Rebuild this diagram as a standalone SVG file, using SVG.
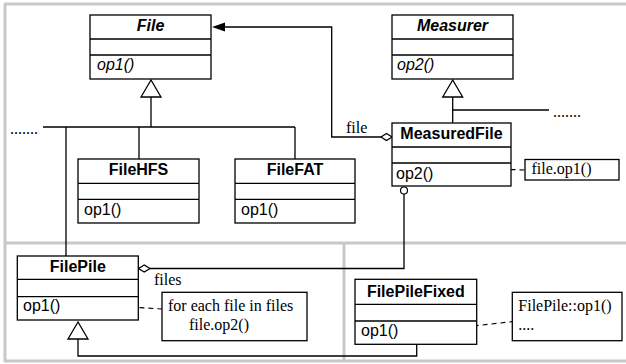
<svg xmlns="http://www.w3.org/2000/svg" width="626" height="364" viewBox="0 0 626 364">
<style>
.frame{stroke:#c8c8c8;stroke-width:3;fill:none}
.box{fill:#fff;stroke:#000;stroke-width:1.3}
.ln{fill:none;stroke:#000;stroke-width:1.3}
.dash{fill:none;stroke:#000;stroke-width:1.2;stroke-dasharray:5 4}
.tri{fill:#fff;stroke:#000;stroke-width:1.3}
.circ{fill:#fff;stroke:#000;stroke-width:1.2}
.title{font-family:"Liberation Sans",Arial,sans-serif;font-size:16px;font-weight:bold;text-anchor:middle}
.abs{font-style:italic}
.op{font-family:"Liberation Sans",Arial,sans-serif;font-size:16px}
.note{font-family:"Liberation Serif","Times New Roman",serif;font-size:16px}
</style>
<rect width="626" height="364" fill="#fff"/>
<g id="frame">
<path class="frame" d="M4,4 H626 M5,4 V362 M4,361 H626 M5,243 H626 M344,243 V362"/>
</g>
<g id="connectors">
<path class="ln" d="M151,97 V127 M43,127 H295 M66,127 V256 M139,127 V159 M295,127 V159"/>
<polygon class="tri" points="151,80 141,97 161,97"/>
<path class="ln" d="M452.7,97 V123 M452.7,110 H549"/>
<polygon class="tri" points="452.7,80 442.7,97 462.7,97"/>
<path class="ln" d="M225,27 H331.7 V137 H381"/>
<polygon points="212,27 225,22.5 225,31.5" fill="#000"/>
<polygon class="tri" points="381,137 386.5,133.5 392,137 386.5,140.5"/>
<path class="ln" d="M404,194 V268.5 H150"/>
<polygon class="tri" points="138.5,268.5 144.2,265 150,268.5 144.2,272"/>
<circle class="circ" cx="404" cy="190.5" r="3.5"/>
<path class="ln" d="M78,339 V356 H416.7 V344.3"/>
<polygon class="tri" points="78,322 68,339 88,339"/>
<path class="dash" d="M447.5,167.5 L525,170"/>
<circle class="circ" cx="444" cy="167.3" r="3.5"/>
<path class="dash" d="M103.5,305.5 L162,309"/>
<circle class="circ" cx="100" cy="305" r="3.5"/>
<path class="dash" d="M411,333 L512.3,321.7"/>
<circle class="circ" cx="407.3" cy="333.3" r="3.5"/>
<text class="note" x="10" y="134">.......</text>
<text class="note" x="553" y="117">.......</text>
<text class="note" x="346" y="133">file</text>
<text class="note" x="154" y="285">files</text>
</g>
<g id="File">
<rect class="box" x="90" y="15" width="121" height="64"/>
<path class="ln" d="M90,39 H211 M90,55 H211"/>
<text class="title abs" x="150.5" y="31">File</text>
<text class="op abs" x="97" y="70">op1()</text>
</g>
<g id="Measurer">
<rect class="box" x="392" y="15" width="121" height="64"/>
<path class="ln" d="M392,39 H513 M392,55 H513"/>
<text class="title abs" x="452.5" y="31">Measurer</text>
<text class="op abs" x="397" y="70">op2()</text>
</g>
<g id="MeasuredFile">
<rect class="box" x="392" y="123" width="119" height="63"/>
<path class="ln" d="M392,147 H511 M392,163 H511"/>
<text class="title" x="451.5" y="139">MeasuredFile</text>
<text class="op" x="396" y="179">op2()</text>
</g>
<g id="FileHFS">
<rect class="box" x="78" y="159" width="121" height="64"/>
<path class="ln" d="M78,183.3 H199 M78,199.3 H199"/>
<text class="title" x="138.5" y="175">FileHFS</text>
<text class="op" x="84" y="215">op1()</text>
</g>
<g id="FileFAT">
<rect class="box" x="235" y="159" width="120" height="64"/>
<path class="ln" d="M235,183.3 H355 M235,199.3 H355"/>
<text class="title" x="295" y="175">FileFAT</text>
<text class="op" x="241" y="215">op1()</text>
</g>
<g id="FilePile">
<rect class="box" x="17.3" y="256" width="121" height="64"/>
<path class="ln" d="M17.3,279.3 H138.3 M17.3,296.7 H138.3"/>
<text class="title" x="77.8" y="272">FilePile</text>
<text class="op" x="23" y="311">op1()</text>
</g>
<g id="FilePileFixed">
<rect class="box" x="355" y="279.3" width="121.7" height="65"/>
<path class="ln" d="M355,304.3 H476.7 M355,321 H476.7"/>
<text class="title" x="415.8" y="297">FilePileFixed</text>
<text class="op" x="361" y="336">op1()</text>
</g>
<g id="note1">
<rect class="box" x="525" y="159.5" width="94" height="20.5"/>
<text class="note" x="531.5" y="174">file.op1()</text>
</g>
<g id="note2">
<rect class="box" x="162" y="292.3" width="145" height="48.4"/>
<text class="note" x="168" y="311">for each file in files</text>
<text class="note" x="189" y="330">file.op2()</text>
</g>
<g id="note3">
<rect class="box" x="512.3" y="292.3" width="109.7" height="48.4"/>
<text class="note" x="518.3" y="311">FilePile::op1()</text>
<text class="note" x="518.3" y="330">....</text>
</g>
</svg>
